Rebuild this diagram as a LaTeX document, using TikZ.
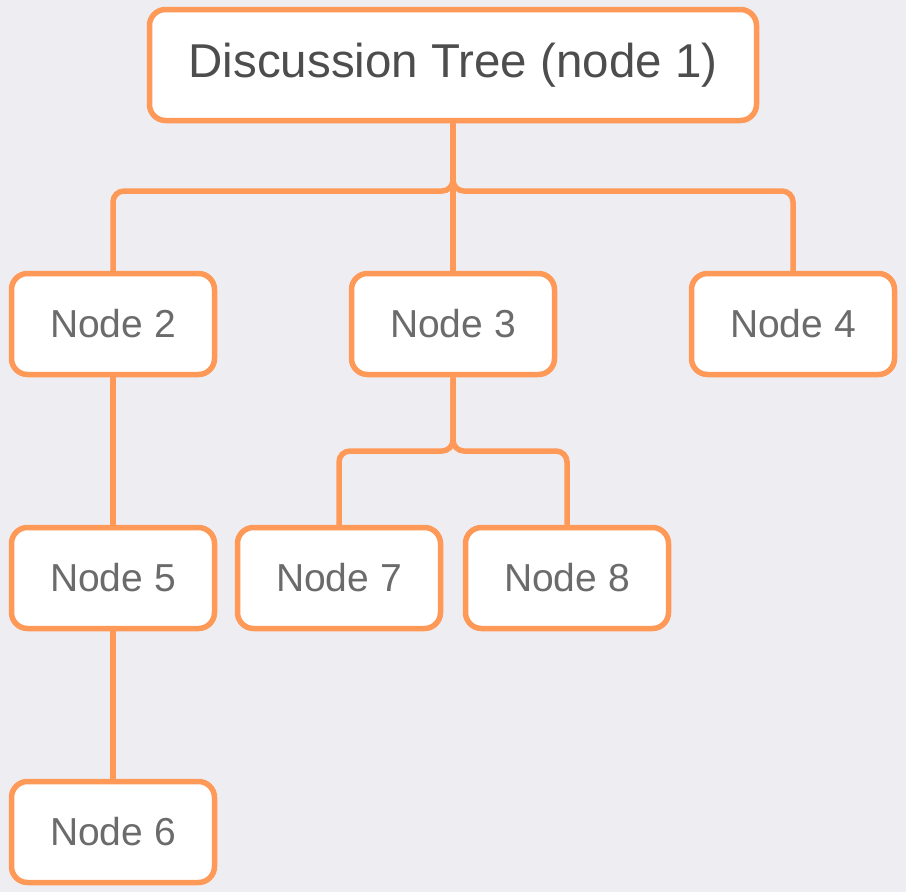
\documentclass[tikz,border=0pt]{standalone}
\usepackage{fontspec}
\setmainfont{Liberation Sans}
\usetikzlibrary{positioning, calc}
\definecolor{fondo}{HTML}{EEEDF2}
\definecolor{borde}{HTML}{FF9958}
\definecolor{raiz}{HTML}{4D4D4D}
\definecolor{texto}{HTML}{6B6B6B}

\begin{document}
\begin{tikzpicture}[x=1pt, y=-1pt,
		caja/.style={draw=borde, fill=white, line width=5.5pt, rounded corners=16pt,
			minimum width=203pt, minimum height=101pt, inner sep=0pt,
			text=texto, font=\fontsize{39}{39}\selectfont},
		enlace/.style={draw=borde, line width=5.5pt, rounded corners=11pt}]
	\fill[fondo] (0,0) rectangle (906,892);
	\useasboundingbox (0,0) rectangle (906,892);
	% arbol
	\node[caja, minimum width=607pt, minimum height=111pt, text=raiz,
		font=\fontsize{47.5}{47.5}\selectfont] (n1) at (453,65) {Discussion Tree (node 1)};
	\node[caja] (n2) at (113,324) {Node 2};
	\node[caja] (n3) at (453,324) {Node 3};
	\node[caja] (n4) at (793,324) {Node 4};
	\node[caja] (n5) at (113,578) {Node 5};
	\node[caja] (n7) at (339,578) {Node 7};
	\node[caja] (n8) at (567,578) {Node 8};
	\node[caja] (n6) at (113,832) {Node 6};
	\coordinate (r1) at (453,191);
	\coordinate (r3) at (453,451);
	% conexiones
	\draw[enlace] (n1.south) -- (r1) -| (n2.north);
	\draw[enlace] (n1.south) -- (r1) -| (n4.north);
	\draw[enlace] (n1.south) -- (n3.north);
	\draw[enlace] (n3.south) -- (r3) -| (n7.north);
	\draw[enlace] (n3.south) -- (r3) -| (n8.north);
	\draw[enlace] (n2.south) -- (n5.north);
	\draw[enlace] (n5.south) -- (n6.north);
\end{tikzpicture}
\end{document}
